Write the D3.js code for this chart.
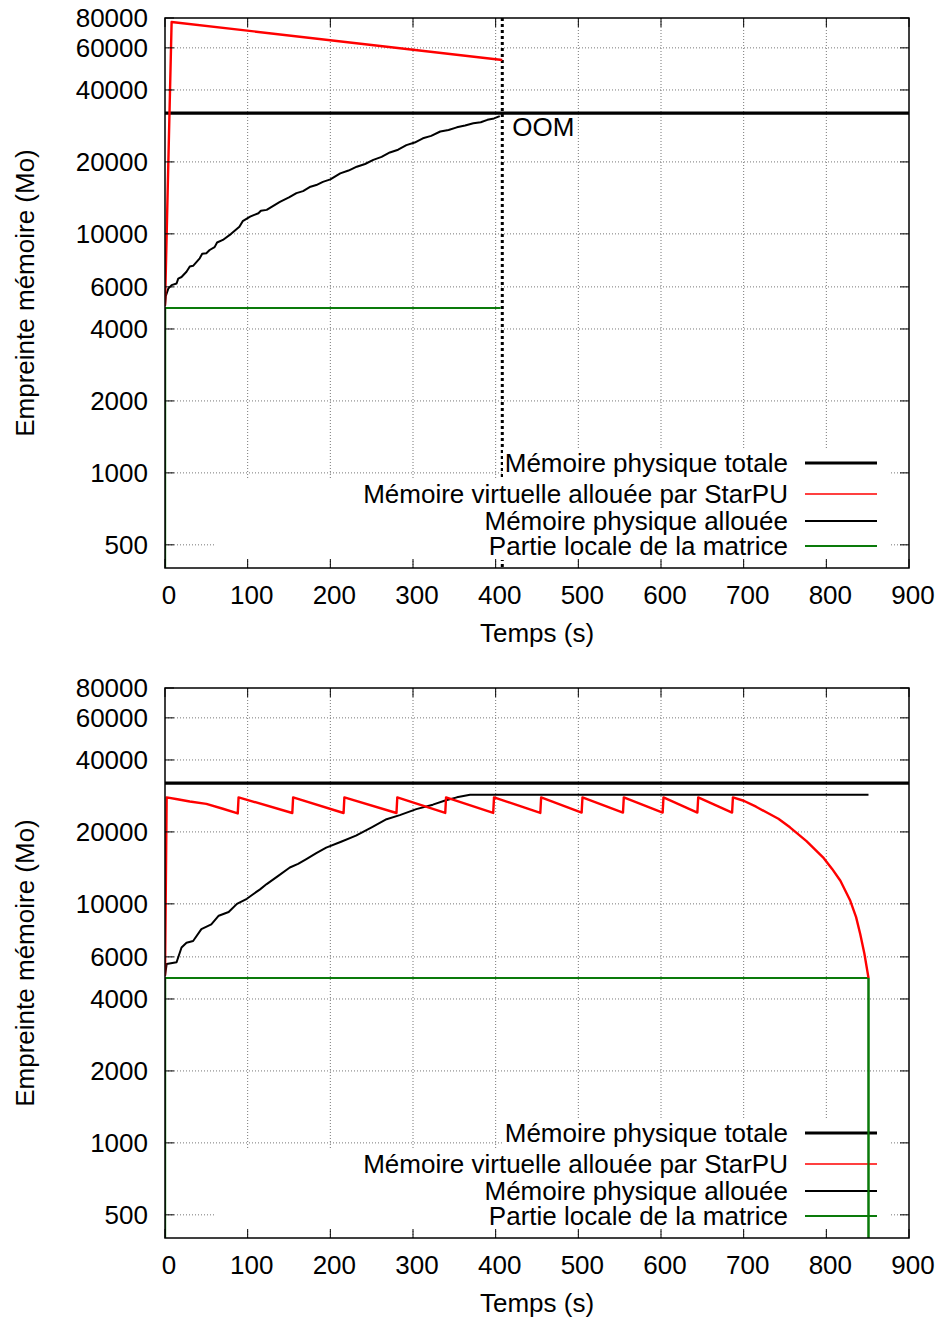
<!DOCTYPE html>
<html>
<head>
<meta charset="utf-8">
<script src="https://cdn.jsdelivr.net/npm/d3@7"></script>
<style>
  body { margin: 0; background: #fff; }
  text { font-family: "Liberation Sans", Arial, sans-serif; font-size: 26px; fill: #000; }
</style>
</head>
<body>
<div id="chart"></div>
<script>
// axis ticks
const xTicks = [0, 100, 200, 300, 400, 500, 600, 700, 800, 900];
const yTicks = [500, 1000, 2000, 4000, 6000, 10000, 20000, 40000, 60000, 80000];

const legendLabels = [
    "Mémoire physique totale",
    "Mémoire virtuelle allouée par StarPU",
    "Mémoire physique allouée",
    "Partie locale de la matrice"
];

// top run (OOM)
const oomTime = 408;
const topTotal = [[0, 32000], [900, 32000]];
const topVirtual = [[0, 5000], [8, 77000], [408, 53400]];
const topPhysical = [
    [0, 5000], [1, 5500], [4, 5900], [8, 6100], [14, 6200], [16, 6500], [20, 6600],
    [26, 6940], [30, 7300], [34, 7350], [42, 7900], [45, 8250], [50, 8300], [54, 8560],
    [60, 8800], [63, 9200], [70, 9430], [80, 10000], [90, 10700], [94, 11300],
    [103, 11800], [108, 12000], [113, 12200], [116, 12500], [123, 12600], [131, 13100],
    [139, 13600], [150, 14200], [159, 14800], [167, 15100], [175, 15700], [183, 16000],
    [191, 16500], [200, 16900], [212, 17900], [222, 18400], [232, 19100], [242, 19600],
    [252, 20400], [262, 21000], [272, 21900], [282, 22500], [292, 23500], [302, 24100],
    [312, 25100], [322, 25700], [333, 26800], [343, 27200], [353, 27900], [363, 28400],
    [373, 29000], [382, 29300], [390, 30000], [398, 30400], [405, 31100]
];
const topLocal = [[0, 1], [0.3, 4900], [406, 4900]];

// bottom run
const botTotal = [[0, 32000], [900, 32000]];
const botVirtual = [
    [0, 5000], [2, 27900], [15, 27400], [30, 26800], [50, 26200], [70, 25000], [88, 23900],
    [89, 27900], [154, 24000], [155, 27900], [216, 24000], [217, 27900], [280, 24000],
    [281, 27900], [339, 24000], [340, 27900], [397, 24000], [398, 27900], [454, 24000],
    [455, 27900], [504, 24100], [505, 27900], [554, 24100], [555, 27900], [602, 24100],
    [603, 27900], [644, 24100], [645, 27900], [686, 24100], [687, 27900], [700, 27000],
    [715, 25500], [728, 24100], [742, 22700], [756, 20900], [776, 18300], [796, 15650],
    [807, 14000], [817, 12500], [829, 10300], [836, 8800], [841, 7480], [846, 6200],
    [851, 4900]
];
const botPhysical = [
    [0, 5000], [2, 5600], [14, 5700], [20, 6570], [26, 6880], [34, 6990], [44, 7840],
    [56, 8200], [65, 8920], [77, 9250], [87, 10000], [99, 10500], [107, 11000],
    [115, 11500], [123, 12100], [137, 13100], [151, 14200], [161, 14700], [171, 15400],
    [183, 16300], [195, 17200], [213, 18200], [231, 19300], [250, 20900], [268, 22600],
    [284, 23500], [304, 24900], [324, 26000], [338, 27000], [353, 27900], [369, 28600],
    [851, 28600]
];
const botLocal = [[0, 1], [0.3, 4900], [851, 4900], [851, 1]];

const width = 939;
const height = 1320;
const left = 165, right = 909, plotH = 550;

const svg = d3.select("#chart").append("svg")
    .attr("width", width)
    .attr("height", height)
    .style("background", "#fff");

const x = d3.scaleLinear().domain([0, 900]).range([left, right]);

function drawPanel(top, series, oom, id) {
    const y = d3.scaleLog().domain([400, 80000]).range([top + plotH, top]);
    const g = svg.append("g");

    g.append("clipPath").attr("id", id)
        .append("rect")
        .attr("x", left).attr("y", top)
        .attr("width", right - left).attr("height", plotH);

    // grid
    g.selectAll(".gx").data(xTicks.slice(1, -1)).enter().append("line")
        .attr("x1", (d) => x(d)).attr("x2", (d) => x(d))
        .attr("y1", top).attr("y2", top + plotH)
        .attr("stroke", "#777").attr("stroke-dasharray", "1,2");
    g.selectAll(".gy").data(yTicks.slice(0, -1)).enter().append("line")
        .attr("x1", left).attr("x2", right)
        .attr("y1", (d) => y(d)).attr("y2", (d) => y(d))
        .attr("stroke", "#777").attr("stroke-dasharray", "1,2");

    if (oom) {
        g.append("line")
            .attr("x1", x(oom)).attr("x2", x(oom))
            .attr("y1", top).attr("y2", top + plotH)
            .attr("stroke", "#000").attr("stroke-width", 3)
            .attr("stroke-dasharray", "3,3");
    }

    // key background
    g.append("rect").attr("x", 503).attr("y", top + 431)
        .attr("width", 387).attr("height", 31).attr("fill", "#fff");
    g.append("rect").attr("x", 215).attr("y", top + 461)
        .attr("width", 675).attr("height", 81).attr("fill", "#fff");

    const line = d3.line().x((d) => x(d[0])).y((d) => y(d[1]));
    const styles = [
        { color: "#000", w: 3.2 },
        { color: "#ff0000", w: 2.4 },
        { color: "#000", w: 2 },
        { color: "#0a7a0a", w: 2 }
    ];

    const order = [0, 3, 2, 1];
    order.forEach((i) => {
        g.append("path")
            .attr("d", line(series[i]))
            .attr("fill", "none")
            .attr("stroke", styles[i].color)
            .attr("stroke-width", styles[i].w)
            .attr("stroke-linejoin", "round")
            .attr("clip-path", `url(#${id})`);
    });

    if (oom) {
        g.append("text")
            .attr("x", x(oom) + 10).attr("y", top + 118)
            .text("OOM");
    }

    // key
    const rowsY = [445, 476, 503, 528];
    const legendW = [3.2, 1.6, 2, 2];
    legendLabels.forEach((label, i) => {
        g.append("text")
            .attr("x", 788).attr("y", top + rowsY[i] + 9)
            .attr("text-anchor", "end")
            .text(label);
        g.append("line")
            .attr("x1", 805).attr("x2", 877)
            .attr("y1", top + rowsY[i]).attr("y2", top + rowsY[i])
            .attr("stroke", styles[i].color)
            .attr("stroke-width", legendW[i]);
    });

    // lines drawn over the key in the second run
    if (!oom) {
        g.append("path")
            .attr("d", line(series[3].slice(2)))
            .attr("fill", "none")
            .attr("stroke", styles[3].color)
            .attr("stroke-width", 2)
            .attr("clip-path", `url(#${id})`);
    }

    // frame and ticks
    g.append("rect")
        .attr("x", left).attr("y", top)
        .attr("width", right - left).attr("height", plotH)
        .attr("fill", "none").attr("stroke", "#000").attr("stroke-width", 1.5);

    xTicks.forEach((d) => {
        g.append("line").attr("x1", x(d)).attr("x2", x(d))
            .attr("y1", top + plotH).attr("y2", top + plotH - 9).attr("stroke", "#000");
        g.append("line").attr("x1", x(d)).attr("x2", x(d))
            .attr("y1", top).attr("y2", top + 9).attr("stroke", "#000");
        g.append("text")
            .attr("x", x(d) + 4).attr("y", top + plotH + 36)
            .attr("text-anchor", "middle")
            .text(d);
    });

    yTicks.forEach((d) => {
        g.append("line").attr("x1", left).attr("x2", left + 9)
            .attr("y1", y(d)).attr("y2", y(d)).attr("stroke", "#000");
        g.append("line").attr("x1", right).attr("x2", right - 9)
            .attr("y1", y(d)).attr("y2", y(d)).attr("stroke", "#000");
        g.append("text")
            .attr("x", 148).attr("y", y(d) + 9)
            .attr("text-anchor", "end")
            .text(d);
    });

    g.append("text")
        .attr("x", (left + right) / 2).attr("y", top + plotH + 74)
        .attr("text-anchor", "middle")
        .text("Temps (s)");

    g.append("text")
        .attr("transform", `translate(34,${top + plotH / 2}) rotate(-90)`)
        .attr("text-anchor", "middle")
        .text("Empreinte mémoire (Mo)");
}

drawPanel(18, [topTotal, topVirtual, topPhysical, topLocal], oomTime, "clipTop");
drawPanel(688, [botTotal, botVirtual, botPhysical, botLocal], null, "clipBot");
</script>
</body>
</html>
